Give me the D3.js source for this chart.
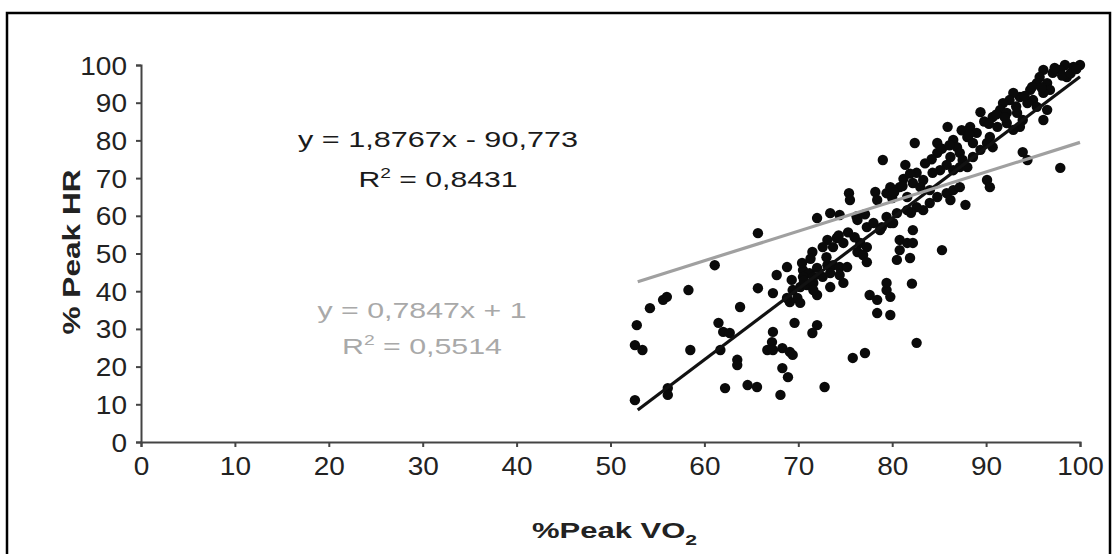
<!DOCTYPE html>
<html><head><meta charset="utf-8">
<script src="https://cdn.jsdelivr.net/npm/d3@7"></script>
<style>
html,body{margin:0;padding:0;background:#fff;}
svg{display:block;}
text{font-family:"Liberation Sans",Arial,sans-serif;}
</style></head>
<body><svg id="chart" width="1118" height="554"></svg>
<script>
// ---- data ----
const vo2 = [52.8,52.6,53.4,52.6,54.2,55.6,56.0,56.1,56.1,58.3,58.5,61.1,61.5,62.0,62.7,61.7,62.2,63.5,63.5,63.8,64.6,65.6,65.7,65.7,67.3,67.3,67.2,66.7,67.3,68.3,69.1,69.4,68.3,68.9,68.1,69.6,72.0,71.5,72.8,75.8,77.1,67.7,68.8,70.5,71.2,72.0,73.1,73.7,74.4,75.2,72.6,73.4,69.4,70.2,70.9,71.6,73.4,74.8,72.0,69.9,69.1,70.2,71.5,72.0,73.4,74.4,76.3,75.4,75.5,78.2,78.4,79.4,80.0,80.8,79.0,77.3,78.0,78.9,79.8,78.7,80.5,73.1,74.1,74.8,72.6,73.7,76.6,77.3,76.3,76.9,77.3,80.8,80.8,80.5,70.5,71.6,74.4,77.6,79.4,79.8,78.4,78.4,79.8,68.8,71.6,100.0,99.3,98.4,97.9,98.6,97.1,96.1,95.7,95.4,96.5,96.8,96.1,94.7,95.0,95.4,94.4,93.6,92.9,92.5,91.8,91.5,92.2,96.5,96.1,93.3,93.9,93.6,92.9,92.2,89.4,90.7,91.2,90.4,85.9,88.3,89.0,88.0,88.6,89.4,90.1,90.7,82.4,84.8,84.8,86.5,86.9,87.2,86.2,87.5,88.6,93.9,94.4,81.4,85.8,85.1,84.3,86.5,87.2,88.0,82.6,83.3,82.2,83.0,97.9,90.1,90.4,79.8,81.6,84.0,84.8,85.8,86.5,87.2,86.2,84.0,83.3,82.6,82.0,87.8,79.4,80.1,81.6,82.2,81.6,82.2,81.9,85.3,79.4,82.1,82.6,
  97.3,98.1,99.0,94.9,94.1,93.2,91.1,92.0,89.8,90.3,87.4,88.2,85.3,86.1,84.2,83.5,81.2,81.9,80.2,81.1,76.2,77.1,75.3,74.3,71.3,70.4,69.3,70.6,73.0,76.0,99.6,95.9];
const hr  = [31.0,25.7,24.4,11.1,35.5,37.7,38.5,14.3,12.5,40.3,24.4,46.9,31.6,29.2,28.9,24.4,14.3,21.8,20.4,35.8,15.1,14.6,55.4,40.8,39.5,29.2,26.5,24.4,24.4,24.9,23.9,23.1,19.6,17.2,12.5,31.6,31.0,28.9,14.6,22.3,23.6,44.3,46.4,45.6,44.8,46.2,46.9,46.9,46.4,46.4,43.8,44.8,40.3,41.1,41.6,42.2,41.1,42.2,39.0,38.2,37.1,36.9,50.4,59.4,60.7,60.2,58.9,66.0,64.2,66.3,64.2,66.0,64.7,67.6,74.8,57.0,58.1,57.0,58.1,56.2,60.7,53.6,54.1,52.8,51.7,51.7,52.8,51.7,50.4,49.6,47.7,53.6,50.9,48.3,43.8,43.8,44.3,39.0,40.3,38.5,37.7,34.2,33.7,38.2,40.3,100,99.5,100,98.7,96.8,97.9,98.7,96.8,95.2,95.2,93.4,92.6,93.4,90.7,88.9,89.9,91.5,92.6,90.7,89.9,88.1,87.3,88.1,85.4,87.3,85.4,83.6,82.8,84.6,87.5,86.2,83.6,80.9,83.6,83.6,82.0,80.9,79.3,77.5,79.3,78.2,79.3,79.3,76.7,80.1,78.2,76.7,75.6,74.8,75.6,76.9,74.8,73.5,73.5,72.1,71.4,72.1,72.9,72.9,71.4,69.5,68.7,67.6,72.7,69.5,67.6,67.6,65.0,66.8,65.0,66.0,66.8,67.6,64.2,63.4,61.5,62.3,60.8,62.9,59.7,58.1,61.5,56.2,52.8,52.8,48.8,50.9,42.2,42.0,26.3,
  99.2,97.2,97.8,94.2,91.8,89.0,86.9,86.1,85.0,84.4,82.7,81.6,77.8,78.7,75.0,73.9,69.8,71.2,66.2,67.9,59.8,60.4,55.6,54.8,48.6,47.5,43.0,42.8,49.0,54.3,98.9,94.0];
const xTicks = [0,10,20,30,40,50,60,70,80,90,100];
const yTicks = [0,10,20,30,40,50,60,70,80,90,100];
const trendNames = ["black","gray"];
const trendSlope = [1.8767, 0.7847];
const trendIntercept = [-90.773, 1];
const trendRange = [52.9, 100];
const eqLabels = ["y = 1,8767x - 90,773", "y = 0,7847x + 1"];
const r2Labels = ["0,8431", "0,5514"];
const xTitle = "%Peak VO";
const yTitle = "% Peak HR";

// ---- drawing ----
const svg = d3.select("#chart");
const x = d3.scaleLinear().domain([0,100]).range([141,1080]);
const y = d3.scaleLinear().domain([0,100]).range([442,65]);
const axisColor = "#444";

// frame
svg.append("rect").attr("x",7).attr("y",13).attr("width",1103).attr("height",560)
  .attr("fill","none").attr("stroke","#000").attr("stroke-width",2.5);

function stretch(sel, k){
  sel.each(function(){ const w=this.getComputedTextLength(); this.setAttribute("textLength", w*k); this.setAttribute("lengthAdjust","spacingAndGlyphs"); });
}

// axes
const gx = svg.append("g").attr("transform",`translate(0,${y(0)})`)
  .call(d3.axisBottom(x).tickValues(xTicks).tickSize(5).tickPadding(10).tickFormat(d3.format("d")));
const gy = svg.append("g").attr("transform",`translate(${x(0)},0)`)
  .call(d3.axisLeft(y).tickValues(yTicks).tickSize(5).tickPadding(9).tickFormat(d3.format("d")));
[gx,gy].forEach(g=>{
  g.select(".domain").attr("stroke",axisColor).attr("stroke-width",2);
  g.selectAll(".tick line").attr("stroke",axisColor).attr("stroke-width",2);
  g.selectAll(".tick text").attr("font-size",25).attr("fill","#222")
    .attr("font-family","'Liberation Sans',Arial,sans-serif");
});
gy.selectAll(".tick text").attr("dy","0.36em");
stretch(gx.selectAll(".tick text"),1.12);
stretch(gy.selectAll(".tick text"),1.12);

// points
svg.append("g").selectAll("circle").data(vo2.map((v,i)=>[v,hr[i]])).join("circle")
  .attr("cx",d=>x(d[0])).attr("cy",d=>y(d[1])).attr("r",5.2).attr("fill","#0a0a0a");

// trend lines
const trendColors = ["#111","#a0a0a0"];
trendNames.forEach((n,i)=>{
  const pts = trendRange.map(v=>[v, trendSlope[i]*v+trendIntercept[i]]);
  svg.append("line").attr("x1",x(pts[0][0])).attr("y1",y(pts[0][1]))
    .attr("x2",x(pts[1][0])).attr("y2",y(pts[1][1]))
    .attr("stroke",trendColors[i]).attr("stroke-width",3.2);
});

// equation labels
const eqPos = [{cx:438, y1:147, y2:187, c:"#1a1a1a", w1:280, w2:159},
               {cx:422, y1:318, y2:354, c:"#a9a9a9", w1:209, w2:160}];
eqLabels.forEach((t,i)=>{
  const p = eqPos[i];
  svg.append("text").attr("x",p.cx).attr("y",p.y1).attr("text-anchor","middle")
    .attr("font-size",22).attr("fill",p.c).attr("textLength",p.w1).attr("lengthAdjust","spacingAndGlyphs").text(t);
  const r = svg.append("text").attr("x",p.cx).attr("y",p.y2).attr("text-anchor","middle")
    .attr("font-size",22).attr("fill",p.c).attr("textLength",p.w2).attr("lengthAdjust","spacingAndGlyphs");
  r.append("tspan").text("R");
  r.append("tspan").attr("dy",-9).attr("font-size",14).text("2");
  r.append("tspan").attr("dy",9).text(" = " + r2Labels[i]);
});

// axis titles
const xt = svg.append("text").attr("x",532).attr("y",538).attr("font-size",22).attr("font-weight","bold")
  .attr("fill","#222").attr("textLength",165).attr("lengthAdjust","spacingAndGlyphs");
xt.append("tspan").text(xTitle);
xt.append("tspan").attr("dy",7).attr("font-size",15).text("2");

svg.append("text").attr("transform","translate(80,252) rotate(-90)").attr("text-anchor","middle")
  .attr("font-size",23).attr("font-weight","bold").attr("fill","#222")
  .attr("textLength",165).attr("lengthAdjust","spacingAndGlyphs").text(yTitle);
</script></body></html>
